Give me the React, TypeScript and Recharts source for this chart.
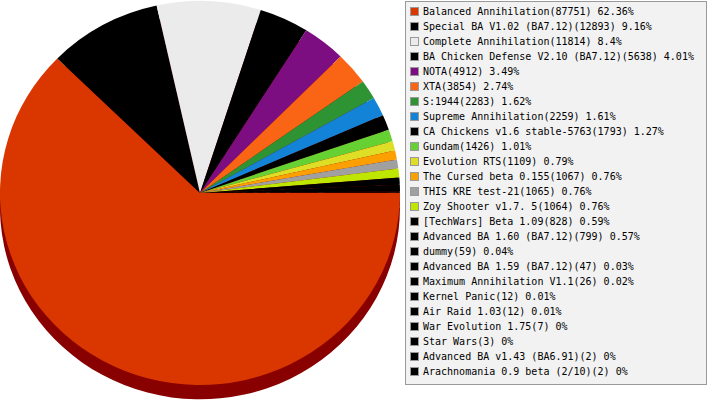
import React from "react";
import { PieChart, Pie, Cell, Legend } from "recharts";

const mods = [
  "Balanced Annihilation",
  "Special BA V1.02 (BA7.12)",
  "Complete Annihilation",
  "BA Chicken Defense V2.10 (BA7.12)",
  "NOTA",
  "XTA",
  "S:1944",
  "Supreme Annihilation",
  "CA Chickens v1.6 stable-5763",
  "Gundam",
  "Evolution RTS",
  "The Cursed beta 0.155",
  "THIS KRE test-21",
  "Zoy Shooter v1.7. 5",
  "[TechWars] Beta 1.09",
  "Advanced BA 1.60 (BA7.12)",
  "dummy",
  "Advanced BA 1.59 (BA7.12)",
  "Maximum Annihilation V1.1",
  "Kernel Panic",
  "Air Raid 1.03",
  "War Evolution 1.75",
  "Star Wars",
  "Advanced BA v1.43 (BA6.91)",
  "Arachnomania 0.9 beta (2/10)",
];

const games = [
  87751, 12893, 11814, 5638, 4912, 3854, 2283, 2259, 1793, 1426, 1109, 1067,
  1065, 1064, 828, 799, 59, 47, 26, 12, 12, 7, 3, 2, 2,
];

const shares = [
  "62.36%", "9.16%", "8.4%", "4.01%", "3.49%", "2.74%", "1.62%", "1.61%",
  "1.27%", "1.01%", "0.79%", "0.76%", "0.76%", "0.76%", "0.59%", "0.57%",
  "0.04%", "0.03%", "0.02%", "0.01%", "0.01%", "0%", "0%", "0%", "0%",
];

const colors = [
  "#d93600", "#000000", "#ebebeb", "#000000", "#7d0e82", "#fa6515",
  "#2e9433", "#1283d6", "#000000", "#66d133", "#dede26", "#fba000",
  "#a0a0a0", "#bfe600", "#000000", "#000000", "#000000", "#000000",
  "#000000", "#000000", "#000000", "#000000", "#000000", "#000000", "#000000",
];

const data = mods.map((name, i) => ({ name, value: games[i] }));

const SHADOW = "#880000";

function ModLegend() {
  return (
    <div
      style={{
        boxSizing: "border-box",
        width: 302,
        height: 384,
        border: "1px solid #999",
        background: "#f2f2f2",
        padding: "2px 0 0 4px",
        fontFamily: "'DejaVu Sans Mono', monospace",
        fontSize: 10,
        color: "#000",
      }}
    >
      {mods.map((m, i) => (
        <div key={m} style={{ height: 15, display: "flex", alignItems: "center", whiteSpace: "nowrap" }}>
          <span
            style={{
              boxSizing: "border-box",
              width: 9,
              height: 9,
              border: "1px solid #999",
              background: colors[i],
              marginRight: 4,
              flex: "none",
            }}
          />
          {`${m}(${games[i]}) ${shares[i]}`}
        </div>
      ))}
    </div>
  );
}

export default function App() {
  return (
    <div className="pie-wrap" style={{ position: "fixed", left: 0, top: 0, width: 707, height: 400, overflow: "hidden", background: "#fff" }}>
      {/* flatten the round pie a little, legend stays as is */}
      <style>{`.pie-wrap svg.recharts-surface { transform: scaleY(0.96); transform-origin: 0 0; }`}</style>
      <PieChart width={707} height={420} margin={{ top: 0, right: 0, bottom: 0, left: 0 }}>
        {/* depth under the pie */}
        <Pie
          data={data}
          dataKey="value"
          cx={200}
          cy={216}
          outerRadius={200}
          startAngle={0}
          endAngle={-360}
          stroke="none"
          legendType="none"
          isAnimationActive={false}
        >
          {data.map((d) => (
            <Cell key={d.name} fill={SHADOW} />
          ))}
        </Pie>
        <Pie
          data={data}
          dataKey="value"
          cx={200}
          cy={201}
          outerRadius={200}
          startAngle={0}
          endAngle={-360}
          stroke="none"
          isAnimationActive={false}
        >
          {data.map((d, i) => (
            <Cell key={d.name} fill={colors[i]} />
          ))}
        </Pie>
        <Legend
          layout="vertical"
          align="right"
          verticalAlign="top"
          content={() => <ModLegend />}
          wrapperStyle={{ position: "absolute", left: 405, top: 1, width: 302, height: 384 }}
        />
      </PieChart>
    </div>
  );
}
